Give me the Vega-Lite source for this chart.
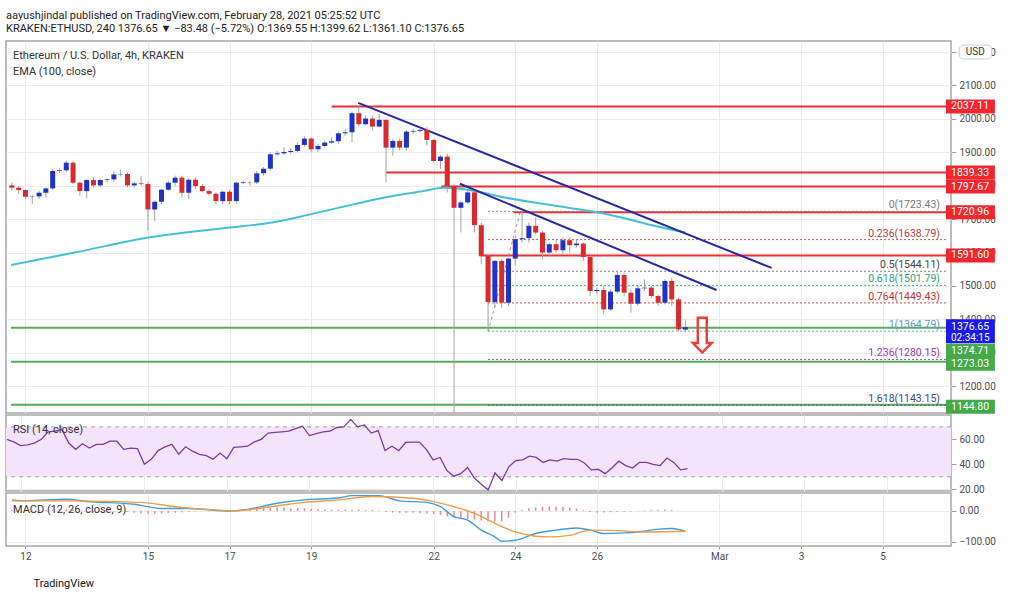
{
  "$schema": "https://vega.github.io/schema/vega-lite/v6.json",
  "description": "KRAKEN ETHUSD 4h candles with EMA 100, trend lines, Fibonacci levels, RSI and MACD panes.",
  "padding": {"left": 3, "top": 10, "right": 0, "bottom": 4},
  "background": "white",
  "bounds": "flush",
  "title": {
    "text": "aayushjindal published on TradingView.com, February 28, 2021 05:25:52 UTC",
    "subtitle": "KRAKEN:ETHUSD, 240  1376.65 ▼ −83.48 (−5.72%)  O:1369.55  H:1399.62  L:1361.10  C:1376.65",
    "anchor": "start",
    "frame": "group",
    "font": "Roboto",
    "fontSize": 11,
    "fontWeight": "normal",
    "color": "#222222",
    "subtitleFont": "Roboto",
    "subtitleFontSize": 11,
    "subtitleColor": "#222222",
    "subtitlePadding": 2,
    "offset": 6
  },
  "datasets": {
    "candles": [
      {"t": "2021-02-11T16:00Z", "o": 1801, "h": 1810, "l": 1785, "c": 1794, "rsi": 60, "hist": 3},
      {"t": "2021-02-11T20:00Z", "o": 1794, "h": 1800, "l": 1775, "c": 1787, "rsi": 58, "hist": 2},
      {"t": "2021-02-12T00:00Z", "o": 1787, "h": 1790, "l": 1760, "c": 1767, "rsi": 55, "hist": 1},
      {"t": "2021-02-12T04:00Z", "o": 1767, "h": 1772, "l": 1745, "c": 1768, "rsi": 55.5, "hist": 1},
      {"t": "2021-02-12T08:00Z", "o": 1768, "h": 1785, "l": 1760, "c": 1779, "rsi": 57, "hist": 2},
      {"t": "2021-02-12T12:00Z", "o": 1779, "h": 1795, "l": 1765, "c": 1792, "rsi": 60, "hist": 3},
      {"t": "2021-02-12T16:00Z", "o": 1792, "h": 1850, "l": 1788, "c": 1844, "rsi": 66, "hist": 4},
      {"t": "2021-02-12T20:00Z", "o": 1844, "h": 1852, "l": 1838, "c": 1846, "rsi": 66.5, "hist": 5},
      {"t": "2021-02-13T00:00Z", "o": 1846, "h": 1875, "l": 1840, "c": 1869, "rsi": 68, "hist": 5},
      {"t": "2021-02-13T04:00Z", "o": 1869, "h": 1872, "l": 1805, "c": 1809, "rsi": 57, "hist": 4},
      {"t": "2021-02-13T08:00Z", "o": 1809, "h": 1812, "l": 1770, "c": 1784, "rsi": 52, "hist": 2},
      {"t": "2021-02-13T12:00Z", "o": 1784, "h": 1820, "l": 1762, "c": 1817, "rsi": 56.5, "hist": 0},
      {"t": "2021-02-13T16:00Z", "o": 1817, "h": 1825, "l": 1795, "c": 1801, "rsi": 53, "hist": -1},
      {"t": "2021-02-13T20:00Z", "o": 1801, "h": 1820, "l": 1795, "c": 1817, "rsi": 56, "hist": -1},
      {"t": "2021-02-14T00:00Z", "o": 1817, "h": 1823, "l": 1810, "c": 1819, "rsi": 56, "hist": -2},
      {"t": "2021-02-14T04:00Z", "o": 1819, "h": 1845, "l": 1812, "c": 1834, "rsi": 58.5, "hist": -2},
      {"t": "2021-02-14T08:00Z", "o": 1834, "h": 1848, "l": 1828, "c": 1835, "rsi": 58.5, "hist": -2},
      {"t": "2021-02-14T12:00Z", "o": 1835, "h": 1840, "l": 1795, "c": 1801, "rsi": 52, "hist": -3},
      {"t": "2021-02-14T16:00Z", "o": 1801, "h": 1812, "l": 1795, "c": 1807, "rsi": 53, "hist": -6},
      {"t": "2021-02-14T20:00Z", "o": 1807, "h": 1830, "l": 1800, "c": 1805, "rsi": 52.5, "hist": -8},
      {"t": "2021-02-15T00:00Z", "o": 1805, "h": 1812, "l": 1665, "c": 1729, "rsi": 40, "hist": -9},
      {"t": "2021-02-15T04:00Z", "o": 1729, "h": 1755, "l": 1695, "c": 1752, "rsi": 44, "hist": -9},
      {"t": "2021-02-15T08:00Z", "o": 1752, "h": 1790, "l": 1745, "c": 1788, "rsi": 51, "hist": -8},
      {"t": "2021-02-15T12:00Z", "o": 1788, "h": 1815, "l": 1785, "c": 1809, "rsi": 54, "hist": -7},
      {"t": "2021-02-15T16:00Z", "o": 1809, "h": 1830, "l": 1800, "c": 1824, "rsi": 56, "hist": -6},
      {"t": "2021-02-15T20:00Z", "o": 1824, "h": 1830, "l": 1765, "c": 1779, "rsi": 48, "hist": -4},
      {"t": "2021-02-16T00:00Z", "o": 1779, "h": 1822, "l": 1760, "c": 1818, "rsi": 54, "hist": -3},
      {"t": "2021-02-16T04:00Z", "o": 1818, "h": 1825, "l": 1790, "c": 1799, "rsi": 50.5, "hist": -2},
      {"t": "2021-02-16T08:00Z", "o": 1799, "h": 1805, "l": 1780, "c": 1784, "rsi": 48, "hist": -1},
      {"t": "2021-02-16T12:00Z", "o": 1784, "h": 1790, "l": 1770, "c": 1776, "rsi": 47, "hist": -1},
      {"t": "2021-02-16T16:00Z", "o": 1776, "h": 1780, "l": 1745, "c": 1754, "rsi": 44, "hist": -1},
      {"t": "2021-02-16T20:00Z", "o": 1754, "h": 1785, "l": 1745, "c": 1782, "rsi": 49, "hist": 0},
      {"t": "2021-02-17T00:00Z", "o": 1782, "h": 1788, "l": 1745, "c": 1754, "rsi": 44.5, "hist": 1},
      {"t": "2021-02-17T04:00Z", "o": 1754, "h": 1812, "l": 1745, "c": 1809, "rsi": 53.5, "hist": 2},
      {"t": "2021-02-17T08:00Z", "o": 1809, "h": 1815, "l": 1805, "c": 1811, "rsi": 54, "hist": 4},
      {"t": "2021-02-17T12:00Z", "o": 1811, "h": 1815, "l": 1800, "c": 1810, "rsi": 54.5, "hist": 6},
      {"t": "2021-02-17T16:00Z", "o": 1810, "h": 1845, "l": 1805, "c": 1837, "rsi": 58, "hist": 8},
      {"t": "2021-02-17T20:00Z", "o": 1837, "h": 1856, "l": 1830, "c": 1851, "rsi": 60, "hist": 9},
      {"t": "2021-02-18T00:00Z", "o": 1851, "h": 1900, "l": 1845, "c": 1894, "rsi": 65, "hist": 10},
      {"t": "2021-02-18T04:00Z", "o": 1894, "h": 1905, "l": 1890, "c": 1897, "rsi": 65.5, "hist": 11},
      {"t": "2021-02-18T08:00Z", "o": 1897, "h": 1915, "l": 1892, "c": 1901, "rsi": 66, "hist": 11},
      {"t": "2021-02-18T12:00Z", "o": 1901, "h": 1912, "l": 1895, "c": 1904, "rsi": 66.5, "hist": 10},
      {"t": "2021-02-18T16:00Z", "o": 1904, "h": 1930, "l": 1900, "c": 1922, "rsi": 68.5, "hist": 10},
      {"t": "2021-02-18T20:00Z", "o": 1922, "h": 1948, "l": 1915, "c": 1941, "rsi": 70.5, "hist": 9},
      {"t": "2021-02-19T00:00Z", "o": 1941, "h": 1945, "l": 1900, "c": 1909, "rsi": 63, "hist": 7},
      {"t": "2021-02-19T04:00Z", "o": 1909, "h": 1925, "l": 1900, "c": 1919, "rsi": 64.5, "hist": 6},
      {"t": "2021-02-19T08:00Z", "o": 1919, "h": 1935, "l": 1915, "c": 1929, "rsi": 66, "hist": 5},
      {"t": "2021-02-19T12:00Z", "o": 1929, "h": 1945, "l": 1925, "c": 1933, "rsi": 66.5, "hist": 4},
      {"t": "2021-02-19T16:00Z", "o": 1933, "h": 1962, "l": 1925, "c": 1957, "rsi": 69.5, "hist": 4},
      {"t": "2021-02-19T20:00Z", "o": 1957, "h": 1970, "l": 1950, "c": 1960, "rsi": 70, "hist": 4},
      {"t": "2021-02-20T00:00Z", "o": 1960, "h": 2022, "l": 1930, "c": 2017, "rsi": 76, "hist": 4},
      {"t": "2021-02-20T04:00Z", "o": 2017, "h": 2037.11, "l": 1978, "c": 1984, "rsi": 70, "hist": 4},
      {"t": "2021-02-20T08:00Z", "o": 1984, "h": 2010, "l": 1980, "c": 2001, "rsi": 71.5, "hist": 3},
      {"t": "2021-02-20T12:00Z", "o": 2001, "h": 2010, "l": 1965, "c": 1977, "rsi": 65, "hist": 3},
      {"t": "2021-02-20T16:00Z", "o": 1977, "h": 2015, "l": 1975, "c": 1997, "rsi": 67, "hist": 2},
      {"t": "2021-02-20T20:00Z", "o": 1997, "h": 1998, "l": 1810, "c": 1914, "rsi": 51, "hist": -3},
      {"t": "2021-02-21T00:00Z", "o": 1914, "h": 1940, "l": 1890, "c": 1934, "rsi": 54.5, "hist": -5},
      {"t": "2021-02-21T04:00Z", "o": 1934, "h": 1940, "l": 1905, "c": 1914, "rsi": 51, "hist": -6},
      {"t": "2021-02-21T08:00Z", "o": 1914, "h": 1966, "l": 1905, "c": 1962, "rsi": 57.5, "hist": -6},
      {"t": "2021-02-21T12:00Z", "o": 1962, "h": 1970, "l": 1955, "c": 1964, "rsi": 57.7, "hist": -6},
      {"t": "2021-02-21T16:00Z", "o": 1964, "h": 1972, "l": 1958, "c": 1967, "rsi": 57.8, "hist": -7},
      {"t": "2021-02-21T20:00Z", "o": 1967, "h": 1975, "l": 1920, "c": 1937, "rsi": 52, "hist": -8},
      {"t": "2021-02-22T00:00Z", "o": 1937, "h": 1940, "l": 1870, "c": 1874, "rsi": 43.5, "hist": -10},
      {"t": "2021-02-22T04:00Z", "o": 1874, "h": 1892, "l": 1850, "c": 1887, "rsi": 45.5, "hist": -13},
      {"t": "2021-02-22T08:00Z", "o": 1887, "h": 1895, "l": 1780, "c": 1799, "rsi": 35, "hist": -17},
      {"t": "2021-02-22T12:00Z", "o": 1799, "h": 1805, "l": 1100, "c": 1734, "rsi": 30.5, "hist": -21},
      {"t": "2021-02-22T16:00Z", "o": 1734, "h": 1755, "l": 1660, "c": 1750, "rsi": 32.5, "hist": -24},
      {"t": "2021-02-22T20:00Z", "o": 1750, "h": 1785, "l": 1745, "c": 1780, "rsi": 37.5, "hist": -26},
      {"t": "2021-02-23T00:00Z", "o": 1780, "h": 1785, "l": 1660, "c": 1682, "rsi": 29, "hist": -28},
      {"t": "2021-02-23T04:00Z", "o": 1682, "h": 1690, "l": 1565, "c": 1590, "rsi": 24, "hist": -31},
      {"t": "2021-02-23T08:00Z", "o": 1590, "h": 1595, "l": 1364.79, "c": 1452, "rsi": 19.5, "hist": -33},
      {"t": "2021-02-23T12:00Z", "o": 1452, "h": 1578, "l": 1435, "c": 1575, "rsi": 33, "hist": -35},
      {"t": "2021-02-23T16:00Z", "o": 1575, "h": 1580, "l": 1435, "c": 1450, "rsi": 27, "hist": -34},
      {"t": "2021-02-23T20:00Z", "o": 1450, "h": 1585, "l": 1440, "c": 1582, "rsi": 38, "hist": -22},
      {"t": "2021-02-24T00:00Z", "o": 1582, "h": 1650, "l": 1560, "c": 1640, "rsi": 43, "hist": -5},
      {"t": "2021-02-24T04:00Z", "o": 1640, "h": 1723.43, "l": 1630, "c": 1643, "rsi": 43.5, "hist": 4},
      {"t": "2021-02-24T08:00Z", "o": 1643, "h": 1690, "l": 1630, "c": 1680, "rsi": 46.5, "hist": 9},
      {"t": "2021-02-24T12:00Z", "o": 1680, "h": 1705, "l": 1655, "c": 1660, "rsi": 45.5, "hist": 12},
      {"t": "2021-02-24T16:00Z", "o": 1660, "h": 1665, "l": 1580, "c": 1600, "rsi": 41.5, "hist": 14},
      {"t": "2021-02-24T20:00Z", "o": 1600, "h": 1630, "l": 1590, "c": 1625, "rsi": 43.5, "hist": 15},
      {"t": "2021-02-25T00:00Z", "o": 1625, "h": 1640, "l": 1600, "c": 1607, "rsi": 42.5, "hist": 14},
      {"t": "2021-02-25T04:00Z", "o": 1607, "h": 1645, "l": 1595, "c": 1637, "rsi": 44.5, "hist": 13},
      {"t": "2021-02-25T08:00Z", "o": 1637, "h": 1645, "l": 1600, "c": 1622, "rsi": 44, "hist": 11},
      {"t": "2021-02-25T12:00Z", "o": 1622, "h": 1640, "l": 1615, "c": 1627, "rsi": 44, "hist": 8},
      {"t": "2021-02-25T16:00Z", "o": 1627, "h": 1630, "l": 1575, "c": 1587, "rsi": 41, "hist": 3},
      {"t": "2021-02-25T20:00Z", "o": 1587, "h": 1590, "l": 1470, "c": 1485, "rsi": 35.5, "hist": -3},
      {"t": "2021-02-26T00:00Z", "o": 1485, "h": 1495, "l": 1475, "c": 1488, "rsi": 36, "hist": -5},
      {"t": "2021-02-26T04:00Z", "o": 1488, "h": 1500, "l": 1415, "c": 1430, "rsi": 32.5, "hist": -5},
      {"t": "2021-02-26T08:00Z", "o": 1430, "h": 1490, "l": 1425, "c": 1483, "rsi": 37, "hist": -4},
      {"t": "2021-02-26T12:00Z", "o": 1483, "h": 1545, "l": 1478, "c": 1533, "rsi": 42.5, "hist": -3},
      {"t": "2021-02-26T16:00Z", "o": 1533, "h": 1540, "l": 1470, "c": 1480, "rsi": 39, "hist": -3},
      {"t": "2021-02-26T20:00Z", "o": 1480, "h": 1490, "l": 1420, "c": 1447, "rsi": 37, "hist": -2},
      {"t": "2021-02-27T00:00Z", "o": 1447, "h": 1500, "l": 1440, "c": 1493, "rsi": 41.5, "hist": -1},
      {"t": "2021-02-27T04:00Z", "o": 1493, "h": 1520, "l": 1485, "c": 1495, "rsi": 41.5, "hist": 2},
      {"t": "2021-02-27T08:00Z", "o": 1495, "h": 1500, "l": 1465, "c": 1470, "rsi": 40, "hist": 3},
      {"t": "2021-02-27T12:00Z", "o": 1470, "h": 1475, "l": 1440, "c": 1450, "rsi": 39, "hist": 4},
      {"t": "2021-02-27T16:00Z", "o": 1450, "h": 1520, "l": 1445, "c": 1515, "rsi": 45, "hist": 5},
      {"t": "2021-02-27T20:00Z", "o": 1515, "h": 1525, "l": 1440, "c": 1460, "rsi": 41.5, "hist": 4},
      {"t": "2021-02-28T00:00Z", "o": 1460, "h": 1465, "l": 1365, "c": 1370, "rsi": 35.5, "hist": 1},
      {"t": "2021-02-28T04:00Z", "o": 1369.55, "h": 1399.62, "l": 1361.1, "c": 1376.65, "rsi": 36.5, "hist": 0}
    ],
    "ema": [
      {"t": "2021-02-11T15:30Z", "v": 1563},
      {"t": "2021-02-13T04:45Z", "v": 1600},
      {"t": "2021-02-15T00:20Z", "v": 1645},
      {"t": "2021-02-17T00:00Z", "v": 1675},
      {"t": "2021-02-18T01:00Z", "v": 1690},
      {"t": "2021-02-19T00:00Z", "v": 1715},
      {"t": "2021-02-20T01:30Z", "v": 1745},
      {"t": "2021-02-20T20:40Z", "v": 1766},
      {"t": "2021-02-21T18:00Z", "v": 1784},
      {"t": "2021-02-22T05:45Z", "v": 1794},
      {"t": "2021-02-22T19:00Z", "v": 1789},
      {"t": "2021-02-23T18:30Z", "v": 1764},
      {"t": "2021-02-24T23:30Z", "v": 1740},
      {"t": "2021-02-25T19:10Z", "v": 1725},
      {"t": "2021-02-26T14:20Z", "v": 1705},
      {"t": "2021-02-27T09:40Z", "v": 1680},
      {"t": "2021-02-28T04:00Z", "v": 1660}
    ],
    "trend": [
      {"id": "upper", "t": "2021-02-20T03:40Z", "p": 2048},
      {"id": "upper", "t": "2021-03-02T06:45Z", "p": 1554},
      {"id": "lower", "t": "2021-02-22T15:25Z", "p": 1806},
      {"id": "lower", "t": "2021-02-28T22:20Z", "p": 1488}
    ],
    "levels": [
      {"kind": "resistance", "p": 2037.11, "start": "2021-02-19T12:00Z"},
      {"kind": "resistance", "p": 1839.33, "start": "2021-02-20T20:00Z"},
      {"kind": "resistance", "p": 1797.67, "start": "2021-02-22T04:30Z"},
      {"kind": "resistance", "p": 1720.96, "start": "2021-02-23T23:00Z"},
      {"kind": "resistance", "p": 1591.60, "start": "2021-02-23T03:00Z"},
      {"kind": "support", "p": 1374.71, "start": "2021-02-11T15:30Z"},
      {"kind": "support", "p": 1273.03, "start": "2021-02-11T15:30Z"},
      {"kind": "support", "p": 1144.80, "start": "2021-02-11T15:30Z"}
    ],
    "fib": [
      {"ratio": "0", "p": 1723.43, "label": "0(1723.43)"},
      {"ratio": "0.236", "p": 1638.79, "label": "0.236(1638.79)"},
      {"ratio": "0.5", "p": 1544.11, "label": "0.5(1544.11)"},
      {"ratio": "0.618", "p": 1501.79, "label": "0.618(1501.79)"},
      {"ratio": "0.764", "p": 1449.43, "label": "0.764(1449.43)"},
      {"ratio": "1", "p": 1364.79, "label": "1(1364.79)"},
      {"ratio": "1.236", "p": 1280.15, "label": "1.236(1280.15)"},
      {"ratio": "1.618", "p": 1143.15, "label": "1.618(1143.15)"}
    ],
    "macd": [
      {"s": "MACD", "t": "2021-02-11T16:00Z", "v": 36},
      {"s": "MACD", "t": "2021-02-12T00:00Z", "v": 33},
      {"s": "MACD", "t": "2021-02-13T00:00Z", "v": 38},
      {"s": "MACD", "t": "2021-02-13T12:00Z", "v": 31},
      {"s": "MACD", "t": "2021-02-14T16:00Z", "v": 22},
      {"s": "MACD", "t": "2021-02-15T00:00Z", "v": 14},
      {"s": "MACD", "t": "2021-02-15T08:00Z", "v": 8},
      {"s": "MACD", "t": "2021-02-16T00:00Z", "v": 8},
      {"s": "MACD", "t": "2021-02-16T08:00Z", "v": 5.5},
      {"s": "MACD", "t": "2021-02-17T00:00Z", "v": 0},
      {"s": "MACD", "t": "2021-02-17T08:00Z", "v": 3},
      {"s": "MACD", "t": "2021-02-18T04:00Z", "v": 25},
      {"s": "MACD", "t": "2021-02-18T20:00Z", "v": 36},
      {"s": "MACD", "t": "2021-02-19T16:00Z", "v": 42},
      {"s": "MACD", "t": "2021-02-20T00:00Z", "v": 50},
      {"s": "MACD", "t": "2021-02-20T08:00Z", "v": 50},
      {"s": "MACD", "t": "2021-02-20T16:00Z", "v": 50},
      {"s": "MACD", "t": "2021-02-21T04:00Z", "v": 33},
      {"s": "MACD", "t": "2021-02-21T20:00Z", "v": 28},
      {"s": "MACD", "t": "2021-02-22T04:00Z", "v": 14},
      {"s": "MACD", "t": "2021-02-22T12:00Z", "v": -18.6},
      {"s": "MACD", "t": "2021-02-22T20:00Z", "v": -29.5},
      {"s": "MACD", "t": "2021-02-23T04:00Z", "v": -62},
      {"s": "MACD", "t": "2021-02-23T12:00Z", "v": -84},
      {"s": "MACD", "t": "2021-02-23T16:00Z", "v": -98},
      {"s": "MACD", "t": "2021-02-24T00:00Z", "v": -95},
      {"s": "MACD", "t": "2021-02-24T12:00Z", "v": -73},
      {"s": "MACD", "t": "2021-02-25T00:00Z", "v": -62},
      {"s": "MACD", "t": "2021-02-25T12:00Z", "v": -55},
      {"s": "MACD", "t": "2021-02-25T20:00Z", "v": -62},
      {"s": "MACD", "t": "2021-02-26T04:00Z", "v": -73},
      {"s": "MACD", "t": "2021-02-26T16:00Z", "v": -71},
      {"s": "MACD", "t": "2021-02-27T00:00Z", "v": -68},
      {"s": "MACD", "t": "2021-02-27T12:00Z", "v": -59},
      {"s": "MACD", "t": "2021-02-27T20:00Z", "v": -57},
      {"s": "MACD", "t": "2021-02-28T04:00Z", "v": -65.5},
      {"s": "Signal", "t": "2021-02-11T16:00Z", "v": 33},
      {"s": "Signal", "t": "2021-02-13T04:00Z", "v": 33},
      {"s": "Signal", "t": "2021-02-14T20:00Z", "v": 28},
      {"s": "Signal", "t": "2021-02-15T16:00Z", "v": 14},
      {"s": "Signal", "t": "2021-02-16T08:00Z", "v": 6},
      {"s": "Signal", "t": "2021-02-17T04:00Z", "v": 1},
      {"s": "Signal", "t": "2021-02-18T00:00Z", "v": 14},
      {"s": "Signal", "t": "2021-02-18T20:00Z", "v": 28},
      {"s": "Signal", "t": "2021-02-19T16:00Z", "v": 36},
      {"s": "Signal", "t": "2021-02-20T12:00Z", "v": 47},
      {"s": "Signal", "t": "2021-02-21T12:00Z", "v": 41.5},
      {"s": "Signal", "t": "2021-02-22T00:00Z", "v": 30.6},
      {"s": "Signal", "t": "2021-02-22T12:00Z", "v": 14},
      {"s": "Signal", "t": "2021-02-23T00:00Z", "v": -7.7},
      {"s": "Signal", "t": "2021-02-23T12:00Z", "v": -40},
      {"s": "Signal", "t": "2021-02-24T00:00Z", "v": -68},
      {"s": "Signal", "t": "2021-02-24T12:00Z", "v": -82},
      {"s": "Signal", "t": "2021-02-24T20:00Z", "v": -84},
      {"s": "Signal", "t": "2021-02-25T08:00Z", "v": -79},
      {"s": "Signal", "t": "2021-02-25T20:00Z", "v": -62},
      {"s": "Signal", "t": "2021-02-26T16:00Z", "v": -64.5},
      {"s": "Signal", "t": "2021-02-27T00:00Z", "v": -68},
      {"s": "Signal", "t": "2021-02-28T04:00Z", "v": -65.5}
    ]
  },
  "spacing": 2,
  "resolve": {"scale": {"y": "independent", "color": "independent"}},
  "vconcat": [
    {
      "width": 945,
      "height": 372,
      "title": {
        "text": ["Ethereum / U.S. Dollar, 4h, KRAKEN", "EMA (100, close)"],
        "anchor": "start",
        "frame": "group",
        "offset": -36,
        "dx": 7,
        "font": "Roboto",
        "fontSize": 11,
        "fontWeight": "normal",
        "color": "#333333",
        "lineHeight": 16
      },
      "resolve": {"scale": {"color": "independent"}},
      "layer": [
        {
          "data": {"name": "levels"},
          "mark": {"type": "rule", "strokeWidth": 2},
          "encoding": {
            "x": {
              "field": "start",
              "type": "temporal",
              "scale": {
                "type": "utc",
                "domain": [
                  {"year": 2021, "month": 2, "date": 11, "hours": 15, "minutes": 30, "utc": true},
                  {"year": 2021, "month": 3, "date": 6, "hours": 13, "minutes": 15, "utc": true}
                ]
              },
              "axis": {
                "values": [
                  {"year": 2021, "month": 2, "date": 12, "utc": true},
                  {"year": 2021, "month": 2, "date": 15, "utc": true},
                  {"year": 2021, "month": 2, "date": 17, "utc": true},
                  {"year": 2021, "month": 2, "date": 19, "utc": true},
                  {"year": 2021, "month": 2, "date": 22, "utc": true},
                  {"year": 2021, "month": 2, "date": 24, "utc": true},
                  {"year": 2021, "month": 2, "date": 26, "utc": true},
                  {"year": 2021, "month": 3, "date": 1, "utc": true},
                  {"year": 2021, "month": 3, "date": 3, "utc": true},
                  {"year": 2021, "month": 3, "date": 5, "utc": true}
                ],
                "tickCount": 30,
                "grid": true,
                "labels": false,
                "ticks": false,
                "domain": false,
                "title": null
              }
            },
            "x2": {"datum": {"year": 2021, "month": 3, "date": 6, "hours": 13, "minutes": 15, "utc": true}},
            "y": {
              "field": "p",
              "type": "quantitative",
              "scale": {"domain": [1120, 2233], "nice": false, "zero": false},
              "axis": {
                "orient": "right",
                "values": [1200, 1300, 1400, 1500, 1600, 1700, 1800, 1900, 2000, 2100, 2200],
                "tickCount": 30,
                "format": ".2f",
                "tickSize": 5,
                "labelPadding": 3,
                "grid": true,
                "title": null
              }
            },
            "color": {
              "field": "kind",
              "type": "nominal",
              "scale": {"domain": ["resistance", "support"], "range": ["#ee2e35", "#58ae58"]},
              "legend": null
            }
          }
        },
        {
          "data": {"name": "fib"},
          "mark": {"type": "rule", "strokeWidth": 1, "strokeDash": [2, 2]},
          "encoding": {
            "x": {"datum": {"year": 2021, "month": 2, "date": 23, "hours": 8, "utc": true}, "type": "temporal"},
            "x2": {"datum": {"year": 2021, "month": 3, "date": 6, "hours": 13, "minutes": 15, "utc": true}},
            "y": {"field": "p", "type": "quantitative"},
            "color": {
              "field": "ratio",
              "type": "nominal",
              "scale": {
                "domain": ["0", "0.236", "0.5", "0.618", "0.764", "1", "1.236", "1.618"],
                "range": ["#8a8a8a", "#c8504e", "#777777", "#3fae96", "#d24343", "#6aa8e0", "#a04cc0", "#4650a8"]
              },
              "legend": null
            }
          }
        },
        {
          "data": {"name": "fib"},
          "mark": {"type": "text", "align": "right", "baseline": "bottom", "dx": -6, "dy": -1, "font": "Roboto", "fontSize": 10.5},
          "encoding": {
            "x": {"datum": {"year": 2021, "month": 3, "date": 6, "hours": 13, "minutes": 15, "utc": true}, "type": "temporal"},
            "y": {"field": "p", "type": "quantitative"},
            "text": {"field": "label"},
            "color": {
              "field": "ratio",
              "type": "nominal",
              "scale": {
                "domain": ["0", "0.236", "0.5", "0.618", "0.764", "1", "1.236", "1.618"],
                "range": ["#777777", "#b8403e", "#444444", "#2f9e86", "#c23333", "#5a98d0", "#9040b0", "#3a4498"]
              },
              "legend": null
            }
          }
        },
        {
          "data": {"values": [{}]},
          "mark": {"type": "rule", "color": "#9a9a9a", "strokeWidth": 1, "strokeDash": [3, 3]},
          "encoding": {
            "x": {"datum": {"year": 2021, "month": 2, "date": 23, "hours": 8, "utc": true}, "type": "temporal"},
            "x2": {"datum": {"year": 2021, "month": 2, "date": 24, "hours": 3, "utc": true}},
            "y": {"datum": 1364.79, "type": "quantitative"},
            "y2": {"datum": 1723.43}
          }
        },
        {
          "data": {"name": "ema"},
          "mark": {"type": "line", "color": "#45c1d6", "strokeWidth": 2, "interpolate": "monotone"},
          "encoding": {
            "x": {"field": "t", "type": "temporal"},
            "y": {"field": "v", "type": "quantitative"}
          }
        },
        {
          "data": {"name": "trend"},
          "mark": {"type": "line", "color": "#2b28a8", "strokeWidth": 2},
          "encoding": {
            "x": {"field": "t", "type": "temporal"},
            "y": {"field": "p", "type": "quantitative"},
            "detail": {"field": "id"}
          }
        },
        {
          "data": {"name": "candles"},
          "mark": {"type": "rule", "color": "#a3a3a3", "strokeWidth": 1, "clip": true},
          "encoding": {
            "x": {"field": "t", "type": "temporal"},
            "y": {"field": "l", "type": "quantitative"},
            "y2": {"field": "h"}
          }
        },
        {
          "data": {"name": "candles"},
          "mark": {"type": "bar", "width": 5},
          "encoding": {
            "x": {"field": "t", "type": "temporal"},
            "y": {"field": "o", "type": "quantitative"},
            "y2": {"field": "c"},
            "color": {
              "condition": {"test": "datum.c >= datum.o", "value": "#1f33c6"},
              "value": "#da2a2c"
            }
          }
        },
        {
          "data": {"values": [{}]},
          "mark": {"type": "text", "text": "⇩", "font": "DejaVu Sans", "fontSize": 50, "color": "#e8413c", "baseline": "middle", "align": "center"},
          "encoding": {
            "x": {"datum": {"year": 2021, "month": 2, "date": 28, "hours": 14, "utc": true}, "type": "temporal"},
            "y": {"datum": 1345, "type": "quantitative"}
          }
        },
        {
          "data": {"name": "levels"},
          "transform": [{"filter": "datum.kind == 'resistance'"}],
          "mark": {"type": "rect", "color": "#f2262c", "yOffset": -7, "y2Offset": 7},
          "encoding": {
            "x": {"datum": {"year": 2021, "month": 3, "date": 6, "hours": 13, "minutes": 15, "utc": true}, "type": "temporal"},
            "x2": {"datum": {"year": 2021, "month": 3, "date": 7, "hours": 18, "utc": true}},
            "y": {"field": "p", "type": "quantitative"},
            "y2": {"field": "p"}
          }
        },
        {
          "data": {"name": "levels"},
          "transform": [{"filter": "datum.kind == 'resistance'"}],
          "mark": {"type": "text", "align": "left", "baseline": "middle", "dx": 5, "color": "white", "font": "Roboto", "fontSize": 10.5},
          "encoding": {
            "x": {"datum": {"year": 2021, "month": 3, "date": 6, "hours": 13, "minutes": 15, "utc": true}, "type": "temporal"},
            "y": {"field": "p", "type": "quantitative"},
            "text": {"field": "p", "type": "quantitative", "format": ".2f"}
          }
        },
        {
          "data": {"name": "levels"},
          "transform": [{"filter": "datum.kind == 'support' && datum.p > 1300"}],
          "mark": {"type": "rect", "color": "#45a84a", "yOffset": 16, "y2Offset": 30},
          "encoding": {
            "x": {"datum": {"year": 2021, "month": 3, "date": 6, "hours": 13, "minutes": 15, "utc": true}, "type": "temporal"},
            "x2": {"datum": {"year": 2021, "month": 3, "date": 7, "hours": 18, "utc": true}},
            "y": {"field": "p", "type": "quantitative"},
            "y2": {"field": "p"}
          }
        },
        {
          "data": {"name": "levels"},
          "transform": [{"filter": "datum.kind == 'support' && datum.p > 1300"}],
          "mark": {"type": "text", "align": "left", "baseline": "middle", "dx": 5, "dy": 23, "color": "white", "font": "Roboto", "fontSize": 10.5},
          "encoding": {
            "x": {"datum": {"year": 2021, "month": 3, "date": 6, "hours": 13, "minutes": 15, "utc": true}, "type": "temporal"},
            "y": {"field": "p", "type": "quantitative"},
            "text": {"field": "p", "type": "quantitative", "format": ".2f"}
          }
        },
        {
          "data": {"name": "levels"},
          "transform": [{"filter": "datum.kind == 'support' && datum.p < 1300"}],
          "mark": {"type": "rect", "color": "#45a84a", "yOffset": -5, "y2Offset": 9},
          "encoding": {
            "x": {"datum": {"year": 2021, "month": 3, "date": 6, "hours": 13, "minutes": 15, "utc": true}, "type": "temporal"},
            "x2": {"datum": {"year": 2021, "month": 3, "date": 7, "hours": 18, "utc": true}},
            "y": {"field": "p", "type": "quantitative"},
            "y2": {"field": "p"}
          }
        },
        {
          "data": {"name": "levels"},
          "transform": [{"filter": "datum.kind == 'support' && datum.p < 1300"}],
          "mark": {"type": "text", "align": "left", "baseline": "middle", "dx": 5, "dy": 2, "color": "white", "font": "Roboto", "fontSize": 10.5},
          "encoding": {
            "x": {"datum": {"year": 2021, "month": 3, "date": 6, "hours": 13, "minutes": 15, "utc": true}, "type": "temporal"},
            "y": {"field": "p", "type": "quantitative"},
            "text": {"field": "p", "type": "quantitative", "format": ".2f"}
          }
        },
        {
          "data": {"values": [{"p": 1376.65, "timer": "02:34:15"}]},
          "mark": {"type": "rect", "color": "#1a1af0", "yOffset": -8, "y2Offset": 16},
          "encoding": {
            "x": {"datum": {"year": 2021, "month": 3, "date": 6, "hours": 13, "minutes": 15, "utc": true}, "type": "temporal"},
            "x2": {"datum": {"year": 2021, "month": 3, "date": 7, "hours": 18, "utc": true}},
            "y": {"field": "p", "type": "quantitative"},
            "y2": {"field": "p"}
          }
        },
        {
          "data": {"values": [{"p": 1376.65, "timer": "02:34:15"}]},
          "mark": {"type": "text", "align": "left", "baseline": "middle", "dx": 5, "color": "white", "font": "Roboto", "fontSize": 10.5},
          "encoding": {
            "x": {"datum": {"year": 2021, "month": 3, "date": 6, "hours": 13, "minutes": 15, "utc": true}, "type": "temporal"},
            "y": {"field": "p", "type": "quantitative"},
            "text": {"field": "p", "type": "quantitative", "format": ".2f"}
          }
        },
        {
          "data": {"values": [{"p": 1376.65, "timer": "02:34:15"}]},
          "mark": {"type": "text", "align": "left", "baseline": "middle", "dx": 5, "dy": 11, "color": "white", "font": "Roboto", "fontSize": 10},
          "encoding": {
            "x": {"datum": {"year": 2021, "month": 3, "date": 6, "hours": 13, "minutes": 15, "utc": true}, "type": "temporal"},
            "y": {"field": "p", "type": "quantitative"},
            "text": {"field": "timer"}
          }
        },
        {
          "data": {"values": [{}]},
          "mark": {"type": "rect", "fill": "white", "stroke": "#cfcfcf", "strokeWidth": 1, "cornerRadius": 4, "yOffset": -7, "y2Offset": 7},
          "encoding": {
            "x": {"datum": {"year": 2021, "month": 3, "date": 6, "hours": 21, "utc": true}, "type": "temporal"},
            "x2": {"datum": {"year": 2021, "month": 3, "date": 7, "hours": 16, "utc": true}},
            "y": {"datum": 2200, "type": "quantitative"},
            "y2": {"datum": 2200}
          }
        },
        {
          "data": {"values": [{}]},
          "mark": {"type": "text", "text": "USD", "align": "center", "baseline": "middle", "font": "Roboto", "fontSize": 10, "color": "#333333"},
          "encoding": {
            "x": {"datum": {"year": 2021, "month": 3, "date": 7, "hours": 6, "minutes": 30, "utc": true}, "type": "temporal"},
            "y": {"datum": 2200, "type": "quantitative"}
          }
        }
      ]
    },
    {
      "width": 945,
      "height": 76,
      "title": {
        "text": "RSI (14, close)",
        "anchor": "start",
        "frame": "group",
        "offset": -20,
        "dx": 7,
        "font": "Roboto",
        "fontSize": 11,
        "fontWeight": "normal",
        "color": "#333333"
      },
      "layer": [
        {
          "data": {"values": [{}]},
          "mark": {"type": "rect", "color": "#f4e4fb"},
          "encoding": {
            "y": {
              "datum": 30,
              "type": "quantitative",
              "scale": {"domain": [18.6, 79.5], "nice": false, "zero": false},
              "axis": {
                "orient": "right",
                "values": [20, 40, 60],
                "tickCount": 10,
                "format": ".2f",
                "tickSize": 5,
                "labelPadding": 3,
                "grid": true,
                "title": null
              }
            },
            "y2": {"datum": 70}
          }
        },
        {
          "data": {"values": [{"lvl": 70}, {"lvl": 30}]},
          "mark": {"type": "rule", "color": "#a0a0a0", "strokeWidth": 1, "strokeDash": [4, 4]},
          "encoding": {
            "y": {"field": "lvl", "type": "quantitative"}
          }
        },
        {
          "data": {"name": "candles"},
          "mark": {"type": "line", "color": "#7c3aa8", "strokeWidth": 1.3},
          "encoding": {
            "x": {
              "field": "t",
              "type": "temporal",
              "scale": {
                "type": "utc",
                "domain": [
                  {"year": 2021, "month": 2, "date": 11, "hours": 15, "minutes": 30, "utc": true},
                  {"year": 2021, "month": 3, "date": 6, "hours": 13, "minutes": 15, "utc": true}
                ]
              },
              "axis": {
                "values": [
                  {"year": 2021, "month": 2, "date": 12, "utc": true},
                  {"year": 2021, "month": 2, "date": 15, "utc": true},
                  {"year": 2021, "month": 2, "date": 17, "utc": true},
                  {"year": 2021, "month": 2, "date": 19, "utc": true},
                  {"year": 2021, "month": 2, "date": 22, "utc": true},
                  {"year": 2021, "month": 2, "date": 24, "utc": true},
                  {"year": 2021, "month": 2, "date": 26, "utc": true},
                  {"year": 2021, "month": 3, "date": 1, "utc": true},
                  {"year": 2021, "month": 3, "date": 3, "utc": true},
                  {"year": 2021, "month": 3, "date": 5, "utc": true}
                ],
                "tickCount": 30,
                "grid": true,
                "labels": false,
                "ticks": false,
                "domain": false,
                "title": null
              }
            },
            "y": {"field": "rsi", "type": "quantitative"}
          }
        }
      ]
    },
    {
      "width": 945,
      "height": 53,
      "title": {
        "text": "MACD (12, 26, close, 9)",
        "anchor": "start",
        "frame": "group",
        "offset": -22,
        "dx": 7,
        "font": "Roboto",
        "fontSize": 11,
        "fontWeight": "normal",
        "color": "#333333"
      },
      "resolve": {"scale": {"color": "independent"}},
      "layer": [
        {
          "data": {"name": "candles"},
          "mark": {"type": "bar", "width": 1.5, "color": "#ea8a97"},
          "encoding": {
            "x": {
              "field": "t",
              "type": "temporal",
              "scale": {
                "type": "utc",
                "domain": [
                  {"year": 2021, "month": 2, "date": 11, "hours": 15, "minutes": 30, "utc": true},
                  {"year": 2021, "month": 3, "date": 6, "hours": 13, "minutes": 15, "utc": true}
                ]
              },
              "axis": {
                "values": [
                  {"year": 2021, "month": 2, "date": 12, "utc": true},
                  {"year": 2021, "month": 2, "date": 15, "utc": true},
                  {"year": 2021, "month": 2, "date": 17, "utc": true},
                  {"year": 2021, "month": 2, "date": 19, "utc": true},
                  {"year": 2021, "month": 2, "date": 22, "utc": true},
                  {"year": 2021, "month": 2, "date": 24, "utc": true},
                  {"year": 2021, "month": 2, "date": 26, "utc": true},
                  {"year": 2021, "month": 3, "date": 1, "utc": true},
                  {"year": 2021, "month": 3, "date": 3, "utc": true},
                  {"year": 2021, "month": 3, "date": 5, "utc": true}
                ],
                "tickCount": 30,
                "labelExpr": "utcFormat(datum.value, '%d') == '01' ? utcFormat(datum.value, '%b') : utcFormat(datum.value, '%-d')",
                "grid": true,
                "ticks": true,
                "tickSize": 3,
                "domain": false,
                "labelPadding": 2,
                "labelFontSize": 10,
                "title": "TradingView",
                "titleAnchor": "start",
                "titleAlign": "left",
                "titleX": 27,
                "titleY": 31,
                "titleFont": "Roboto",
                "titleFontSize": 11,
                "titleFontWeight": "normal",
                "titleColor": "#131722"
              }
            },
            "y": {
              "field": "hist",
              "type": "quantitative",
              "scale": {"domain": [-113.6, 58.4], "nice": false, "zero": false},
              "axis": {
                "orient": "right",
                "values": [0, -100],
                "tickCount": 10,
                "format": ".2f",
                "tickSize": 5,
                "labelPadding": 3,
                "grid": true,
                "title": null
              }
            },
            "y2": {"datum": 0}
          }
        },
        {
          "data": {"name": "macd"},
          "mark": {"type": "line", "strokeWidth": 1.4, "interpolate": "monotone"},
          "encoding": {
            "x": {"field": "t", "type": "temporal"},
            "y": {"field": "v", "type": "quantitative"},
            "color": {
              "field": "s",
              "type": "nominal",
              "scale": {"domain": ["MACD", "Signal"], "range": ["#3d9ee0", "#f29b45"]},
              "legend": null
            }
          }
        }
      ]
    }
  ],
  "config": {
    "font": "Roboto",
    "view": {"stroke": "#a8a8a8", "strokeWidth": 1.5},
    "axis": {
      "labelFont": "Roboto",
      "labelFontSize": 10,
      "labelColor": "#4d4d4d",
      "gridColor": "#ebebeb",
      "tickColor": "#a0a0a0",
      "domain": false
    }
  }
}
